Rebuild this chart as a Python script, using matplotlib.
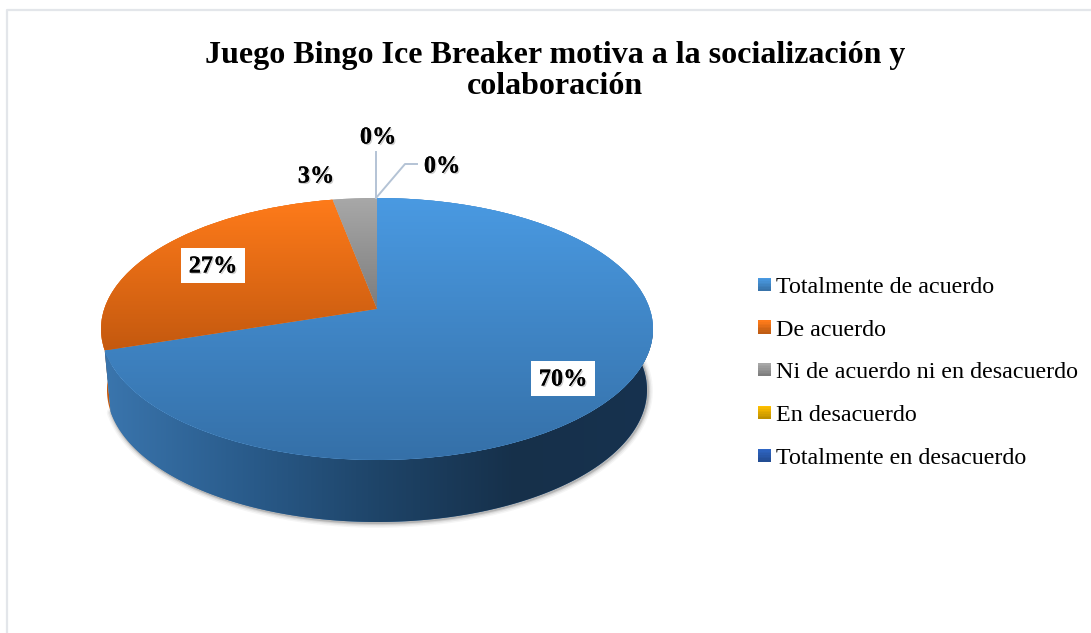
import numpy as np
import matplotlib
matplotlib.use("Agg")
import matplotlib.pyplot as plt
import matplotlib.patheffects as pe
from matplotlib.colors import LinearSegmentedColormap, to_rgb
from matplotlib.legend_handler import HandlerBase
from matplotlib.patches import Rectangle, Wedge
from matplotlib.transforms import Transform

plt.rcParams['font.family'] = ['Liberation Serif', 'DejaVu Serif']

TITLE = "Juego Bingo Ice Breaker motiva a la socialización y\ncolaboración"
categories = ["Totalmente de acuerdo", "De acuerdo", "Ni de acuerdo ni en desacuerdo",
              "En desacuerdo", "Totalmente en desacuerdo"]
values = [70, 27, 3, 0, 0]
top_colors = ["#4a9ae2", "#ff7b1a", "#a8a8a8", "#ffc000", "#2f66c4"]
bottom_colors = ["#3570a8", "#c4590f", "#7c7c7c", "#c89600", "#1f4a90"]
wall_stops = ["#3a75ad", "#2a5c8c", "#1e4468", "#16304a", "#17324f"]
label_pos = [(563, 378), (213, 265), (316, 177), (378, 138), (442, 167)]


class Tilt(Transform):
    """Perspective view of the unit pie, as an Excel 3-D pie draws it."""
    input_dims = output_dims = 2

    def __init__(self, cx, cy, rx, ry, k):
        super().__init__()
        self.p = (cx, cy, rx, ry, k)

    def transform_non_affine(self, xy):
        cx, cy, rx, ry, k = self.p
        xy = np.asarray(xy, float)
        d = 1 + k * xy[:, 1]
        x = xy[:, 0] * np.sqrt(1 - k * k) / d
        y = (xy[:, 1] + k) / d
        return np.column_stack([cx + rx * x, cy - ry * y])


class GradientHandler(HandlerBase):
    def create_artists(self, legend, orig_handle, xd, yd, width, height, fontsize, trans):
        top = np.array(to_rgb(orig_handle.get_facecolor()))
        n = 8
        side = width
        y0 = -yd + (height - side) / 2
        return [Rectangle((-xd, y0 + side * (n - 1 - i) / n), side, side / n + 0.2,
                          facecolor=top * (1 - 0.25 * i / (n - 1)), edgecolor="none",
                          transform=trans) for i in range(n)]


fig = plt.figure(figsize=(10.91, 6.33), dpi=100, facecolor="white")
ax = fig.add_axes([0, 0, 1, 1])

wedges, _ = ax.pie(values, colors=top_colors, startangle=90, counterclock=False,
                   wedgeprops=dict(linewidth=0))
ax.set_aspect("auto")

top_face = Tilt(377, 329, 276, 131, 0.153)
bottom_rim = Tilt(377, 390, 270, 132, 0.153)

# side wall of every slice
cum = np.concatenate([[0], np.cumsum(values)]) / np.sum(values) * 2 * np.pi
wall_cmap = LinearSegmentedColormap.from_list("wall", wall_stops)
wall_grad = np.linspace(0, 1, 256)[None, :]
for i in (1, 0):
    th = np.pi / 2 - np.linspace(cum[i], cum[i + 1], 240)
    unit = np.column_stack([np.cos(th), np.sin(th)])
    a = top_face.transform(unit)
    b = bottom_rim.transform(unit)
    outline = np.vstack([a, b[::-1]])
    if i == 0:
        for lw, al in ((7, .05), (5, .08), (3, .12), (1.5, .2)):
            ax.plot(b[:, 0] + 1, b[:, 1] + 1, color="#404040", lw=lw, alpha=al, zorder=1,
                    solid_capstyle="round")
    poly = ax.fill(outline[:, 0], outline[:, 1], color=bottom_colors[i], lw=0, zorder=2)[0]
    if i == 0:
        im = ax.imshow(wall_grad, cmap=wall_cmap, extent=(105, 653, 522, 329), aspect="auto",
                       interpolation="bilinear", zorder=3)
        im.set_clip_path(poly)

# top face of every slice, with its vertical gradient
for w, ct, cb, v in zip(wedges, top_colors, bottom_colors, values):
    w.set_transform(top_face + ax.transData)
    w.set_zorder(5)
    if v == 0:
        continue
    ext = top_face.transform_path(w.get_path()).get_extents()
    cm = LinearSegmentedColormap.from_list("g", [ct, cb])
    im = ax.imshow(np.linspace(0, 1, 256)[:, None], cmap=cm, aspect="auto",
                   extent=(ext.x0, ext.x1, ext.y1, ext.y0), interpolation="bilinear", zorder=6)
    im.set_clip_path(w)

ax.set_xlim(0, 1091)
ax.set_ylim(633, 0)
ax.axis("off")

# chart frame
ax.plot([7, 7, 1091], [633, 10, 10], color="#e3e6ea", lw=1.6, zorder=0)

# leader lines of the two empty slices
ax.plot([376, 376], [198, 152], color="#b4c3d5", lw=1.4, zorder=7)
ax.plot([376, 405, 417], [198, 164, 164], color="#b4c3d5", lw=1.4, zorder=7)

ax.text(555, 71, TITLE, ha="center", va="center", fontsize=23.0, fontweight="bold",
        color="black", linespacing=1.13, zorder=8)

shadow = [pe.withSimplePatchShadow(offset=(1.0, -1.0), shadow_rgbFace="#777777", alpha=0.35), pe.Normal()]
for i, (v, (x, y)) in enumerate(zip(values, label_pos)):
    ax.text(x, y + (2 if i < 2 else 0), f"{v}%", ha="center", va="center", fontsize=17.5,
            fontweight="bold", color="black", zorder=9, path_effects=shadow)
    if i < 2:
        ax.add_patch(Rectangle((x - 32, y - 17), 64, 35, facecolor="white", edgecolor="none", zorder=8))

leg = ax.legend(wedges, categories, handler_map={Wedge: GradientHandler()},
                loc="upper left", bbox_to_anchor=(758, 276), bbox_transform=ax.transData,
                frameon=False, fontsize=17.3, borderpad=0, borderaxespad=0,
                handlelength=0.54, handleheight=0.7, handletextpad=0.22, labelspacing=0.87)
leg.set_zorder(10)

fig.savefig("out.png", dpi=100, facecolor="white")
